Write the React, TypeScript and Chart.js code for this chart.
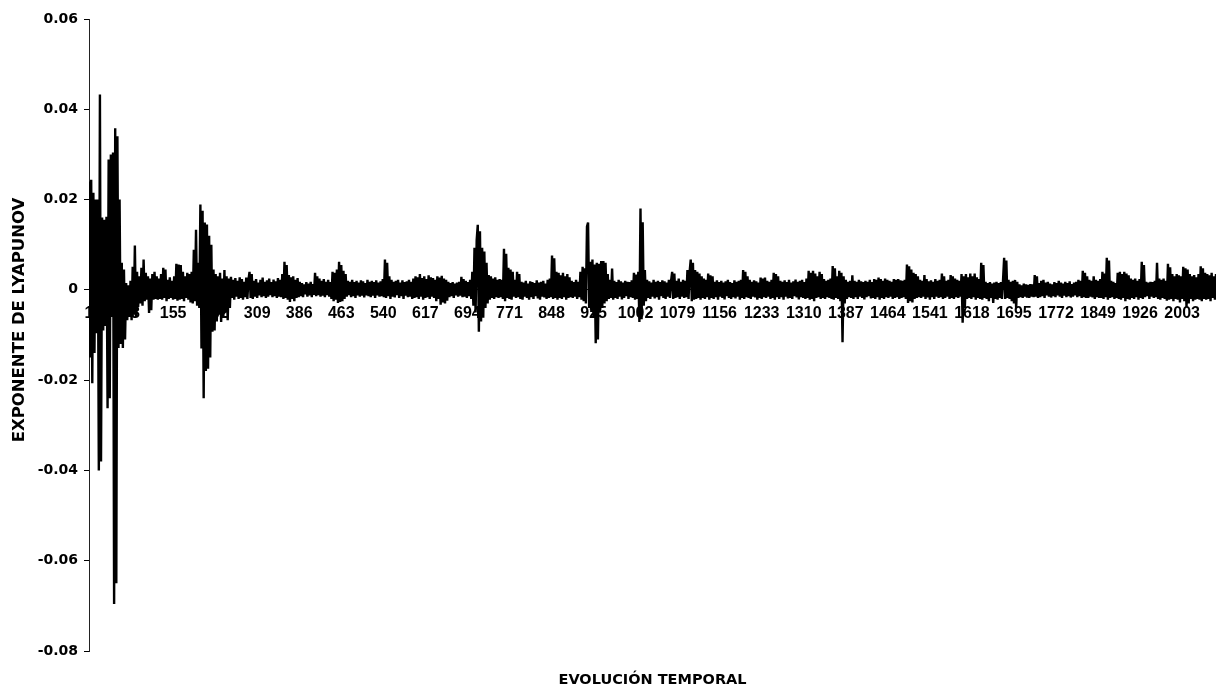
import React, { useEffect, useRef } from "react";
import { Chart, registerables } from "chart.js";

Chart.register(...registerables);

// Time axis: steps 1..2065, the series is stored every SAMPLE_STEP steps.
const FIRST_STEP = 1;
const LAST_STEP = 2065;
const SAMPLE_STEP = 2;
// Values of the exponent are stored in units of VALUE_UNIT.
const VALUE_UNIT = 0.0001;

// Transient at the start of the run (steps 1..165)
const SEG_A = [
  240, -150, 244, -207, 215, -140, 200, -96, 200, -400, 433, -380, 160, -90, 155, -80, 162, -262, 289, -240,
  300, -60, 304, -696, 358, -650, 340, -129, 200, -120, 60, -129, 45, -110, 15, -67, 10, -60, 20, -67,
  51, -55, 98, -60, 40, -38, 30, -30, 49, -35, 67, -25, 38, -22, 30, -51, 25, -45, 35, -22,
  40, -20, 30, -22, 25, -20, 35, -22, 49, -18, 45, -25, 22, -20, 28, -18, 20, -22, 30, -20,
  58, -24, 56,
];

// Steps 167..385
const SEG_B = [
  -22, 55, -20, 40, -25, 30, -18, 38, -22, 35, -28, 40, -30, 89, -25, 133, -35, 60, -40, 189,
  -130, 175, -240, 149, -180, 145, -175, 120, -150, 100, -93, 45, -90, 35, -70, 30, -55, 38, -71, 25,
  -60, 44, -50, 30, -67, 25, -40,
  29, -18, 22, -22, 26, -15, 20, -20, 28, -18, 24, -22, 18, -16, 27, -20, 22,
  40, -18, 35, -20,
  20, -15, 24, -18, 16, -12, 22, -16, 27, -14, 18, -18, 21, -15, 25, -12, 17, -16, 23, -14, 19, -18, 26, -15,
  22, -16, 35, -20, 62, -18, 55,
  -22, 33, -27, 28, -20, 30, -25, 22, -18, 26, -16,
];

// Steps 387..753
const SEG_C = [
  18, -14, 15, -16, 12, -10, 17, -15, 14, -12, 18, -16, 13, -11,
  38, -14, 30, -12, 25, -15,
  20, -13, 24, -16, 18, -12, 22, -15, 17,
  -20, 40, -25, 38, -22, 45, -29, 62, -27, 55, -25, 42, -20, 35,
  -15, 20, -12, 18, -16, 22, -14, 17, -18, 20, -12, 16, -15, 21, -13, 19, -17, 15, -12, 22,
  -14, 18, -16, 20, -13, 17, -18, 21, -12, 16, -15, 19, -14, 24,
  -16, 67, -18, 60, -14, 30,
  -20, 22, -15, 18, -17, 20, -12, 22, -18, 16, -14, 21, -20, 17, -13, 19, -16, 22, -15, 18, -20,
  25, -18, 30, -16, 28, -20, 35, -15, 26, -22, 30, -18, 24, -16, 32, -20, 28, -15, 26, -18,
  22, -25, 30, -20, 27, -33, 31, -28, 25, -30, 22, -24,
  18, -16, 15, -14, 17, -18, 14, -12, 16, -15, 18, -13, 29, -16, 24,
  -15, 20, -18, 17, -14, 22, -20, 40,
  -35, 93, -50, 110, 144, -93, 130, -70, 93, -62, 85,
  -40, 60, -30, 33, -22, 30, -18, 25, -20, 28, -16, 22, -18, 24,
];

// Steps 755..1121
const SEG_D = [
  -16, 22,
  -20, 91, -25, 80, -18,
  49, -20, 45, -22, 40,
  -15, 22, -18,
  40, -16, 35,
  -20, 18, -22, 16, -15, 20, -18, 14, -22, 19, -16, 17, -20, 15, -14, 21, -19, 16, -22, 18, -15, 20, -17, 14, -20,
  22, -18, 25, -16,
  76, -20, 70, -18, 40,
  -22, 38, -18, 32, -20, 38, -16, 30, -22, 35, -18, 28,
  -16, 20, -18, 17, -15, 22, -20, 18, -16,
  40, -22, 51, -25, 48, -30, 140,
  149, -40,
  62, -49, 67, -60, 56, -118, 60, -110, 58, -45, 64, -40,
  64, -30, 60, -25, 35,
  -20, 22, -18, 47, -22, 20,
  -18, 17, -20, 22, -15, 19, -21, 16, -18, 20, -14, 18, -20, 17, -16, 21,
  -18, 38, -22, 34, -20,
  40, -71, 180, -65, 150,
  -35, 44, -25,
  22, -18, 19, -20, 16, -15, 22, -19, 18, -16, 20, -22, 17, -14, 21, -18, 19, -20, 16,
  -15, 22, -18, 20,
  40, -20, 36,
  -18, 20, -16, 25, -20, 18, -15, 22, -18, 20, -16,
  44, -20, 40, 67, -25, 60, -22, 44, -20, 40, -18, 36, -22,
];

// Steps 1123..1487
const SEG_E = [
  30, -18, 25, -20, 22,
  -16, 36, -22, 32, -18, 30,
  -20, 18, -16, 21, -22, 17, -15, 20, -18, 16, -21, 19, -14, 22, -18, 17, -20, 15, -16, 21, -19, 18, -15, 20, -22,
  22, -18,
  44, -20, 40, -16, 30,
  -18, 22, -20, 18, -15, 21, -17, 19, -22, 16,
  -18, 27, -20, 25, -16, 27, -18,
  20, -15, 18, -20, 22,
  -18, 38, -22, 35, -16, 30, -20,
  20, -16, 18, -22, 21, -15, 17, -19, 22, -18, 16, -20, 19, -14, 23, -17, 18, -21, 20, -16, 22, -18, 17, -20, 25,
  -18, 42, -22, 38, -20, 42, -25, 36, -18, 30,
  -16, 40, -20, 35, -18, 24,
  -20, 20, -16, 22, -18, 25,
  -20, 53, -22, 48, -18, 30,
  -20, 42, -25, 38,
  -116, 30,
  -30, 22, -20, 18, -16, 20,
  -18, 32, -20,
  20, -16, 18, -20, 22, -15, 19, -18, 17, -21, 20, -16, 18, -14, 22, -19, 17,
  -18, 24, -20, 22, -16, 27, -22, 24, -18, 20, -20, 25, -16, 22,
  -18, 20, -15, 18,
  -20, 24, -18, 22, -16, 24, -20, 21,
];

// Steps 1489..1853
const SEG_F = [
  -18, 20, -16, 22, -20,
  56, -29, 52, -25, 45, -28,
  38, -20, 35, -18, 30, -16,
  22, -18, 20, -15, 33, -20, 24, -17, 19, -22, 21, -16, 18, -20, 24, -15, 20, -18, 22,
  -16, 36, -20, 30,
  -18, 20, -15, 22, -20,
  33, -18, 30, -20, 25,
  -16, 22, -18, 20, -15,
  35, -73, 30, -40, 35, -20, 28, -18,
  36, -20, 30, -16, 36, -22, 28, -18, 24,
  -20, 60, -22, 55, -18,
  18, -20, 15, -25, 17, -18, 14, -29, 16, -20, 18, -22, 15, -18, 17, -20, 22,
  71, -20, 65, -18,
  22, -20, 18, -25, 20, -30, 22, -40, 18,
  -18, 12, -16, 10, -18, 14, -15, 12, -17, 11, -18, 13, -15, 12, -16,
  33, -15, 30, -18,
  15, -16, 20, -14, 22, -18, 16, -12, 18, -15, 14, -17, 12, -14, 17, -16, 15, -12, 20, -15,
  16, -18, 14, -13, 18, -16, 15, -14, 19, -17, 13, -15, 16, -12, 18, -16, 22, -14, 20, -18,
  42, -16, 38, -18, 30,
  -18, 22, -15, 20, -17, 30, -20, 22, -16, 20, -18, 24,
];

// Steps 1855..2065
const SEG_G = [
  -18, 40, -20, 36,
  -16, 71, -22, 65, -18,
  20, -16, 18, -20, 15, -18,
  38, -20, 40, -22, 35, -18, 40, -25, 36, -20, 32, -22,
  25, -18, 22, -20, 25, -16, 20, -22, 24,
  -18, 62, -20,
  55, -16, 18, -14, 16, -20, 18, -15, 17, -18, 20,
  -16, 60, -20,
  25, -22, 22, -18, 25, -20, 20, -24,
  58, -22, 50, -20,
  35, -25, 30, -20, 35, -22, 32, -28, 30,
  -20, 51, -25, 48, -38, 45, -30,
  35, -20, 30, -25, 33, -22, 28, -20, 35,
  -22, 52, -25, 48, -20,
  38, -22, 35, -20, 32, -25, 38, -18, 30, -22, 35,
];

const X_TICKS = [
  1, 78, 155, 232, 309, 386, 463, 540, 617, 694, 771, 848, 925, 1002, 1079, 1156, 1233, 1310, 1387,
  1464, 1541, 1618, 1695, 1772, 1849, 1926, 2003,
];
const Y_TICKS = [-0.08, -0.06, -0.04, -0.02, 0, 0.02, 0.04, 0.06];
const Y_MIN = -0.08;
const Y_MAX = 0.06;

const X_TITLE = "EVOLUCIÓN TEMPORAL";
const Y_TITLE = "EXPONENTE DE LYAPUNOV";

// Vertical axis title, drawn a little above the plot's vertical centre.
const yTitlePlugin = {
  id: "yTitle",
  afterDraw(chart: any) {
    const { ctx, chartArea } = chart;
    ctx.save();
    ctx.translate(chartArea.left - 69, (chartArea.top + chartArea.bottom) / 2 - 15);
    ctx.rotate(-Math.PI / 2);
    ctx.font = "bold 16.5px 'DejaVu Sans', sans-serif";
    ctx.fillStyle = "#000";
    ctx.textAlign = "center";
    ctx.textBaseline = "middle";
    ctx.fillText(Y_TITLE, 0, 0);
    ctx.restore();
  },
};

export default function App() {
  const canvasRef = useRef<HTMLCanvasElement>(null);

  useEffect(() => {
    document.body.style.margin = "0";
    const canvas = canvasRef.current;
    if (!canvas) return;

    const values = [...SEG_A, ...SEG_B, ...SEG_C, ...SEG_D, ...SEG_E, ...SEG_F, ...SEG_G];
    const points = values.map((v, i) => ({ x: FIRST_STEP + i * SAMPLE_STEP, y: v * VALUE_UNIT }));

    const chart = new Chart(canvas, {
      type: "line",
      data: {
        datasets: [
          {
            data: points,
            borderColor: "#000",
            borderWidth: 2.4,
            borderJoinStyle: "bevel",
            pointRadius: 0,
            tension: 0,
            fill: false,
          },
        ],
      },
      options: {
        animation: false,
        responsive: false,
        events: [],
        layout: { padding: { top: 19, right: 0, bottom: 0, left: 0 } },
        plugins: {
          legend: { display: false },
          tooltip: { enabled: false },
          title: { display: false },
        },
        scales: {
          x: {
            type: "linear",
            min: FIRST_STEP,
            max: LAST_STEP,
            position: { y: 0 },
            afterBuildTicks: (scale: any) => {
              scale.ticks = X_TICKS.map((v) => ({ value: v }));
            },
            ticks: {
              autoSkip: false,
              maxRotation: 0,
              padding: 14,
              color: "#000",
              font: { family: "'Liberation Sans', Arial, sans-serif", size: 16, weight: "bold" },
              callback: (v: any) => String(v),
            },
            grid: { display: false, drawTicks: false },
            border: { display: true, color: "#000", width: 1 },
          },
          xTitle: {
            axis: "x",
            type: "linear",
            position: "bottom",
            min: 0,
            max: 1,
            afterFit: (scale: any) => {
              scale.height = 38;
            },
            ticks: { display: false },
            grid: { display: false, drawTicks: false },
            border: { display: false },
            title: {
              display: true,
              text: X_TITLE,
              color: "#000",
              font: { family: "'DejaVu Sans', sans-serif", size: 14.5, weight: "bold" },
              padding: 0,
            },
          },
          y: {
            type: "linear",
            min: Y_MIN,
            max: Y_MAX,
            afterBuildTicks: (scale: any) => {
              scale.ticks = Y_TICKS.map((v) => ({ value: v }));
            },
            afterFit: (scale: any) => {
              scale.width = 89;
            },
            ticks: {
              padding: 6,
              color: "#000",
              font: { family: "'DejaVu Sans', sans-serif", size: 14, weight: "bold" },
              callback: (v: any) => (Math.abs(v) < 1e-9 ? "0" : Number(v).toFixed(2)),
            },
            grid: { drawOnChartArea: false, drawTicks: true, tickLength: 5, color: "#000" },
            border: { display: true, color: "#222", width: 1 },
            title: { display: false },
          },
        },
      },
      plugins: [yTitlePlugin],
    });

    return () => chart.destroy();
  }, []);

  return (
    <div style={{ width: 1216, height: 689, background: "#fff" }}>
      <canvas ref={canvasRef} width={1216} height={689} style={{ display: "block" }} />
    </div>
  );
}
